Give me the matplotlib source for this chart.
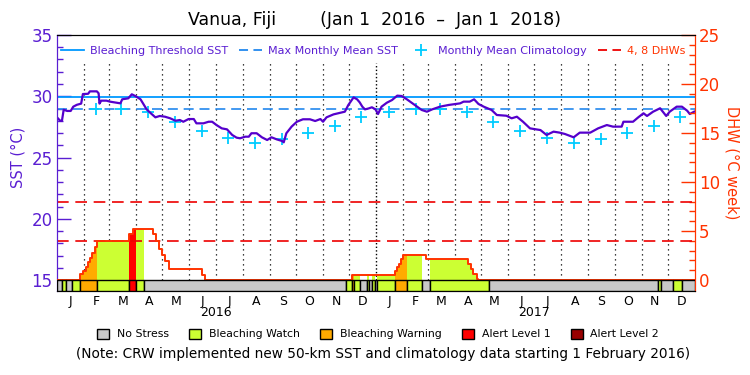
import numpy as np
import pandas as pd
import matplotlib
matplotlib.use("Agg")
import matplotlib.pyplot as plt
from matplotlib.lines import Line2D
from matplotlib.patches import Patch
from matplotlib.ticker import FixedLocator

# x values are days since 1 Jan 2016
sst_days = [0, 4, 6, 8, 12, 16, 19, 23, 28, 30, 36, 38, 46, 48, 49, 51, 57, 61,
            73, 75, 82, 86, 90, 96, 103, 107, 113, 118, 124, 130, 136, 141, 145,
            151, 157, 160, 168, 174, 178, 183, 189, 195, 201, 206, 210, 216, 220,
            223, 229, 235, 241, 246, 252, 258, 260, 263, 269, 275, 282, 290, 296,
            302, 305, 309, 317, 325, 330, 334, 340, 344, 347, 350, 353, 357, 361,
            365, 368, 372, 378, 384, 390, 395, 401, 409, 418, 424, 430, 439, 449,
            462, 466, 473, 478, 483, 489, 498, 504, 515, 521, 527, 534, 542, 554,
            561, 569, 576, 582, 592, 599, 611, 620, 630, 637, 647, 649, 660, 666,
            672, 676, 683, 691, 698, 702, 710, 716, 722, 725, 730]
sst_vals = [28.3, 28.0, 28.0, 28.9, 28.8, 28.8, 29.15, 29.3, 29.4, 30.18, 30.2,
            30.4, 30.4, 30.24, 29.4, 29.64, 29.64, 29.56, 29.42, 29.75, 29.83,
            30.16, 30.02, 29.75, 28.93, 28.66, 28.28, 28.39, 28.33, 28.2, 28.0,
            28.06, 27.92, 28.14, 28.14, 27.79, 27.79, 27.92, 27.92, 27.65, 27.38,
            27.3, 26.84, 26.62, 26.57, 26.7, 26.7, 26.98, 26.98, 26.65, 26.43,
            26.65, 26.48, 26.35, 26.24, 26.98, 27.52, 27.92, 28.12, 28.12, 27.98,
            28.14, 27.92, 28.28, 28.52, 28.66, 28.74, 29.29, 29.91, 29.75, 29.5,
            29.15, 28.93, 29.0, 29.1, 28.93, 28.55, 29.15, 29.47, 29.69, 30.05,
            30.02, 29.75, 29.34, 28.88, 28.74, 28.93, 29.15, 29.29, 29.42, 29.56,
            29.56, 29.75, 29.37, 29.15, 28.88, 28.47, 28.41, 28.2, 28.33, 27.92,
            27.38, 27.24, 26.84, 27.11, 27.03, 26.92, 26.65, 27.03, 27.03, 27.38,
            27.65, 27.52, 27.52, 27.92, 27.92, 28.28, 28.61, 28.39, 28.74, 29.02,
            28.39, 28.74, 29.15, 29.15, 28.82, 28.55, 28.74]

# monthly mean climatology, Jan..Dec
clim_vals = [28.69, 28.95, 28.93, 28.69, 27.87, 27.16, 26.62, 26.16, 26.55,
             27.0, 27.6, 28.33]
mmm_sst = 28.95
threshold_sst = 29.95

# degree heating weeks, step changes
dhw_days = [0, 27, 30, 33, 35.7, 38.4, 40.6, 43.3, 46, 83.3, 87.2, 110.8, 113.9,
            117.3, 121, 124.5, 128.8, 166.9, 170.3, 338.6, 387.5, 390.2, 392.5,
            394.4, 396.3, 423, 471.4, 474.5, 477.2, 481.7, 482.2]
dhw_vals = [0, 0.58, 0.92, 1.36, 1.81, 2.28, 2.72, 3.34, 4.01, 4.66, 5.2, 4.65,
            4.0, 3.2, 2.55, 1.9, 1.1, 0.5, 0, 0.54, 0.95, 1.3, 1.63, 2.1, 2.6,
            2.1, 1.6, 1.1, 0.6, 0.07, 0]
dhw_levels = [4, 8]

# stress level periods: 0 none, 1 watch, 2 warning, 3 alert 1, 4 alert 2
stress_start = [0, 6, 10.5, 17, 27, 46, 83.3, 91, 100, 331.5, 338.2, 341, 347.5,
                355, 358.2, 361.5, 364, 366.5, 387.5, 401, 418, 428, 495.5, 689,
                691.5, 706, 716.5]
stress_level = [0, 1, 0, 1, 2, 1, 3, 1, 0, 1, 2, 1, 0, 1, 0, 1, 0, 1, 2, 1, 0, 1,
                0, 1, 0, 1, 0]
stress_names = ["No Stress", "Bleaching Watch", "Bleaching Warning",
                "Alert Level 1", "Alert Level 2"]
stress_colors = ["#c8c8c8", "#ccff33", "#ffaa00", "#ff0000", "#990000"]

PURPLE = "#5a1ed2"
RED = "#ff3300"

start = pd.Timestamp("2016-01-01")
n_days = (pd.Timestamp("2018-01-01") - start).days
month_starts = pd.date_range("2016-01-01", "2018-01-01", freq="MS")
month_days = np.array([(d - start).days for d in month_starts])
month_mid = (month_days[:-1] + month_days[1:]) / 2
month_letters = [d.strftime("%b")[0] for d in month_starts[:-1]]

clim_dates = pd.date_range("2016-02-01", "2017-12-01", freq="MS")
clim_x = [(d - start).days + 14 for d in clim_dates]
clim_y = [clim_vals[d.month - 1] for d in clim_dates]


def dhw_at(x):
    idx = np.searchsorted(dhw_days, x, side="right") - 1
    return np.asarray(dhw_vals)[idx]


sst_lo, sst_hi = 14.13, 35
fig = plt.figure(figsize=(7.5, 3.75), dpi=100)
ax = fig.add_axes([0.0756, 0.2248, 0.8511, 0.6819])
ax.set_xlim(0, n_days)
ax.set_ylim(sst_lo, sst_hi)
ax2 = ax.twinx()
ax2.set_ylim((sst_lo - 15) * 1.25, (sst_hi - 15) * 1.25)

# month separators (year boundary a little denser)
inner = month_days[1:-1]
normal = [d for d in inner if d != 366]
ax.vlines(normal, 15, 32.7, colors="black", linestyles=(0, (1, 3)), lw=0.9)
ax.vlines([366], 15, 32.7, colors="black", linestyles=(0, (1, 1.6)), lw=1.0)

# SST and references
ax.axhline(threshold_sst, color="#0099ff", lw=1.3)
ax.axhline(mmm_sst, color="#2288ee", lw=1.2, ls=(0, (6, 3.5)))
ax.plot(clim_x, clim_y, "+", color="#00ccff", ms=9, mew=1.3, zorder=3)
ax.plot(sst_days, sst_vals, color="#5500cc", lw=1.6, zorder=4)

# DHW fill coloured by stress level
stress_end = stress_start[1:] + [n_days]
for s, e, lev in zip(stress_start, stress_end, stress_level):
    if lev == 0:
        continue
    xs = [s] + [d for d in dhw_days if s < d < e] + [e]
    ax2.fill_between(xs, 0, dhw_at(xs), step="post",
                     color=stress_colors[lev], lw=0, zorder=1)
for lvl in dhw_levels:
    ax2.axhline(lvl, color="#ee0000", lw=1.2, ls=(0, (7, 4)), zorder=2)
ax2.step(dhw_days + [n_days], dhw_vals + [0], where="post", color=RED,
         lw=1.4, zorder=3)

# stress bar
widths = np.array(stress_end) - np.array(stress_start)
ax2.bar(stress_start, -ax2.get_ylim()[0], width=widths, bottom=ax2.get_ylim()[0],
        align="edge", color=[stress_colors[l] for l in stress_level],
        edgecolor="black", lw=1, zorder=5)

# axes styling
ax.yaxis.set_major_locator(FixedLocator([15, 20, 25, 30, 35]))
ax.yaxis.set_minor_locator(FixedLocator(range(15, 36)))
ax.tick_params(axis="y", which="major", direction="in", length=10, width=1,
               colors=PURPLE, labelsize=12, pad=3)
ax.tick_params(axis="y", which="minor", direction="in", length=4.5, width=1,
               colors=PURPLE)
ax2.yaxis.set_major_locator(FixedLocator([0, 5, 10, 15, 20, 25]))
ax2.yaxis.set_minor_locator(FixedLocator(range(0, 26)))
ax2.tick_params(axis="y", which="major", direction="in", length=10, width=1,
                colors=RED, labelsize=12, pad=3)
ax2.tick_params(axis="y", which="minor", direction="in", length=4.5, width=1,
                colors=RED)
ax.set_xticks(month_mid, month_letters)
ax.tick_params(axis="x", length=0, labelsize=9, pad=3)
for a in (ax, ax2):
    a.spines["left"].set_color(PURPLE)
    a.spines["right"].set_color(RED)
    a.spines["top"].set_color("black")
    a.spines["bottom"].set_color("black")

for yr, d in [("2016", 182), ("2017", 547)]:
    ax.text(d, -0.087, yr, transform=ax.get_xaxis_transform(), ha="center",
            va="center", fontsize=9)

# top legend
handles = [Line2D([], [], color="#0099ff", lw=1.3),
           Line2D([], [], color="#2288ee", lw=1.3, ls=(0, (5, 3))),
           Line2D([], [], color="#00ccff", marker="+", ls="none", ms=9, mew=1.3),
           Line2D([], [], color="#ee0000", lw=1.3, ls=(0, (5, 3)))]
labels = ["Bleaching Threshold SST", "Max Monthly Mean SST",
          "Monthly Mean Climatology", "4, 8 DHWs"]
leg = ax2.legend(handles, labels, ncol=4, loc="center",
                 bbox_to_anchor=(0.4955, 0.9375), frameon=False, fontsize=8,
                 handlelength=2.1, handletextpad=0.5, columnspacing=1.0,
                 borderpad=0, borderaxespad=0)
for t, c in zip(leg.get_texts(), [PURPLE, PURPLE, PURPLE, RED]):
    t.set_color(c)

# stress legend
patches = [Patch(facecolor=c, edgecolor="black", lw=1) for c in stress_colors]
fig.legend(patches, stress_names, ncol=5, loc="center",
           bbox_to_anchor=(0.504, 1 - 334 / 375), frameon=False, fontsize=7.8,
           handlelength=1.1, handleheight=1.1, columnspacing=1.9,
           handletextpad=0.7, borderpad=0)

fig.text(0.4987, 0.9467,
         "Vanua, Fiji        (Jan 1  2016  \u2013  Jan 1  2018)",
         ha="center", va="center", fontsize=12.5)
fig.text(0.511, 0.056, "(Note: CRW implemented new 50-km SST and climatology "
         "data starting 1 February 2016)", ha="center", va="center",
         fontsize=9.8)
fig.text(0.024, 0.581, "SST (\u00b0C)", rotation=90, ha="center", va="center",
         color=PURPLE, fontsize=10.5)
fig.text(0.976, 0.565, "DHW (\u00b0C week)", rotation=270, ha="center",
         va="center", color=RED, fontsize=10.5)

fig.savefig("out.png", dpi=100)
